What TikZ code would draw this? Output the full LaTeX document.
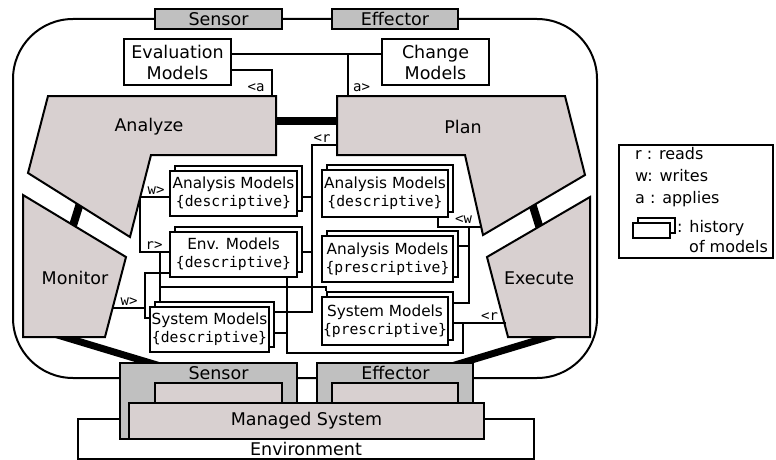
\documentclass[tikz,border=0pt]{standalone}
\usepackage{fontspec}
\setmainfont{DejaVu Sans}
\setsansfont{DejaVu Sans}
\setmonofont{DejaVu Sans Mono}
\usetikzlibrary{shadows}
\definecolor{mapecol}{RGB}{216,208,208}
\definecolor{portcol}{RGB}{192,192,192}
\newcommand{\kind}[1]{{\fontsize{14.7pt}{18pt}\selectfont\ttfamily\{#1\}}}
\tikzstyle{frame} = [draw=black, line width=2pt, rounded corners=60pt]
\tikzstyle{mape} = [draw=black, line width=2pt, fill=mapecol]
\tikzstyle{mapetext} = [inner sep=0pt, font=\fontsize{17.5pt}{20pt}\selectfont]
\tikzstyle{port} = [rectangle, draw=black, line width=2pt, fill=portcol, inner sep=0pt, font=\fontsize{17.5pt}{20pt}\selectfont]
\tikzstyle{knowledge} = [rectangle, draw=black, line width=2pt, fill=white, inner sep=0pt, minimum height=46pt, align=center, font=\fontsize{17.5pt}{21pt}\selectfont]
\tikzstyle{model} = [rectangle, draw=black, line width=2pt, fill=white, inner sep=0pt, minimum height=45pt, align=center, font=\fontsize{15.3pt}{18pt}\selectfont, copy shadow={shadow xshift=5pt, shadow yshift=5pt}]
\tikzstyle{link} = [draw=black, line width=2pt]
\tikzstyle{bond} = [draw=black, line width=8pt]
\tikzstyle{rw} = [anchor=base, inner sep=0pt, font=\ttfamily\fontsize{14pt}{15pt}\selectfont]
\tikzstyle{legendtext} = [anchor=base west, inner sep=0pt, font=\fontsize{16pt}{22pt}\selectfont]

\begin{document}
\begin{tikzpicture}[x=1pt, y=-1pt]
\useasboundingbox (0,0) rectangle (776,460);

% outer loop
\draw[frame] (13,19) rectangle (597,378);

% points where the links meet the MAPE parts
\coordinate (anaMon) at (81,200);
\coordinate (monAna) at (71,232);
\coordinate (planExe) at (531,200);
\coordinate (exePlan) at (541,232);
\coordinate (anaPlan) at (270,121);
\coordinate (planAna) at (343,121);
\coordinate (monSens) at (41,330);
\coordinate (sensMon) at (167,368);
\coordinate (exeEff) at (571,330);
\coordinate (effExe) at (445,368);

\draw[bond] (anaMon) -- (monAna);
\draw[bond] (planExe) -- (exePlan);
\draw[bond] (anaPlan) -- (planAna);
\draw[bond, line width=7pt] (monSens) -- (sensMon);
\draw[bond, line width=7pt] (exeEff) -- (effExe);

% MAPE
\draw[mape] (48,96) -- (276,96) -- (276,155) -- (151,155) -- (130,237) -- (28,173) -- cycle;
\draw[mape] (337,96) -- (565,96) -- (585,175) -- (483,235) -- (465,155) -- (337,155) -- cycle;
\draw[mape] (23,195) -- (126,257) -- (105,337) -- (23,337) -- cycle;
\draw[mape] (590,197) -- (590,337) -- (508,337) -- (487,257) -- cycle;
\node (analyze) [mapetext] at (149,127) {Analyze};
\node (plan) [mapetext] at (463,127) {Plan};
\node (monitor) [mapetext] at (75,278) {Monitor};
\node (execute) [mapetext] at (539,278) {Execute};

% upper touchpoints
\node (sensorT) [port, minimum width=127pt, minimum height=20pt] at (218.5,19) {Sensor};
\node (effectorT) [port, minimum width=126pt, minimum height=20pt] at (395,19) {Effector};

\node (evalM) [knowledge, minimum width=107pt] at (177.5,62) {Evaluation\\Models};
\node (changeM) [knowledge, minimum width=107pt] at (435.5,62) {Change\\Models};

% runtime models
\node (amdL) [model, minimum width=127pt] at (233.5,193.5) {Analysis Models\\\kind{descriptive}};
\node (envL) [model, minimum width=127pt] at (233.5,254.5) {Env. Models\\\kind{descriptive}};
\node (sysL) [model, minimum width=119pt] at (209.5,329.5) {System Models\\\kind{descriptive}};
\node (amdR) [model, minimum width=126pt, minimum height=47pt] at (385,193.5) {Analysis Models\\\kind{descriptive}};
\node (ampR) [model, minimum width=131pt, minimum height=46pt] at (387.5,259) {Analysis Models\\\kind{prescriptive}};
\node (sysR) [model, minimum width=126pt, minimum height=48pt] at (385,321) {System Models\\\kind{prescriptive}};

% managed system
\node (env) [rectangle, draw=black, line width=2pt, fill=white, inner sep=0pt, minimum width=456pt, minimum height=40pt] at (306,439) {};
\node (envText) [mapetext] at (306,449) {Environment};
\node (sensorB) [port, minimum width=177pt, minimum height=76pt] at (208.5,401) {};
\node (effectorB) [port, minimum width=156pt, minimum height=40pt] at (395,383) {};
\node (sensorIn) [rectangle, draw=black, line width=2pt, fill=mapecol, inner sep=0pt, minimum width=127pt, minimum height=28pt] at (218.5,397) {};
\node (effectorIn) [rectangle, draw=black, line width=2pt, fill=mapecol, inner sep=0pt, minimum width=126pt, minimum height=28pt] at (395,397) {};
\node (sensorText) [mapetext] at (218.5,373) {Sensor};
\node (effectorText) [mapetext] at (395.5,373) {Effector};
\node (managed) [rectangle, draw=black, line width=2pt, fill=mapecol, inner sep=0pt, minimum width=355pt, minimum height=36pt, font=\fontsize{17.5pt}{20pt}\selectfont] at (306.5,421) {Managed System};

% reads / writes / applies
\coordinate (anaEval) at (272,96);
\coordinate (planChange) at (348,96);
\coordinate (anaOut) at (140,197);
\coordinate (monOut) at (113,308);
\coordinate (planIn) at (337,145);
\coordinate (planOut) at (481,227);
\coordinate (exeIn) at (506,323);

\draw[link] (evalM.east |- 0,54) -- (changeM.west |- 0,54);
\draw[link] (planChange) -- (planChange |- 0,54);
\draw[link] (evalM.east |- 0,70) -| (anaEval);

\draw[link] (anaOut) -- (amdL.west |- anaOut);
\draw[link] (anaOut) |- (envL.west |- 0,252);
\draw[link] (160,252) -- ([yshift=5pt]sysL.north -| 160,0);
\draw[link] (160,287) -| ([xshift=5pt, yshift=5pt]sysR.north west);
\draw[link] (monOut) -- (145,308);
\draw[link] (envL.west |- 0,273) -| (145,318) -- (sysL.west |- 0,318);

\draw[link] (planIn) -| (312,312) -- ([xshift=5pt]sysL.east |- 0,312);
\draw[link] ([xshift=5pt]amdL.east |- anaOut) -- (312,197);
\draw[link] ([xshift=5pt]envL.east |- 0,252) -- (312,252);
\draw[link] (envL.south -| 287,0) |- (463,353) -- (463,323);
\draw[link] ([xshift=5pt]sysL.east |- 0,333) -- (287,333);
\draw[link] (exeIn) -- ([xshift=5pt]sysR.east |- exeIn);

\draw[link] (amdR.south -| 438,0) |- (planOut);
\draw[link] (469,227) |- ([xshift=5pt]sysR.east |- 0,303);
\draw[link] (469,246) -- ([xshift=5pt]ampR.east |- 0,246);

\node (lblEvalA) [rw] at (256,91) {<a};
\node (lblChangeA) [rw] at (361.5,91) {a>};
\node (lblAnaW) [rw] at (156,194) {w>};
\node (lblAnaR) [rw] at (154,249) {r>};
\node (lblMonW) [rw] at (129,305) {w>};
\node (lblPlanR) [rw] at (322,142) {<r};
\node (lblPlanW) [rw] at (463.5,223) {<w};
\node (lblExeR) [rw] at (489.5,320) {<r};

% legend
\node (legend) [rectangle, draw=black, line width=2pt, inner sep=0pt, minimum width=154pt, minimum height=113pt] at (696,201.5) {};
\node (legR) [legendtext] at (635,159) {r : reads};
\node (legW) [legendtext] at (635,181) {w: writes};
\node (legA) [legendtext] at (635,203) {a : applies};
\node (legHist) [model, minimum width=37pt, minimum height=15pt] at (651.5,230.5) {};
\node (legH1) [legendtext] at (677,232) {: history};
\node (legH2) [legendtext] at (689,252) {of models};

\end{tikzpicture}
\end{document}
